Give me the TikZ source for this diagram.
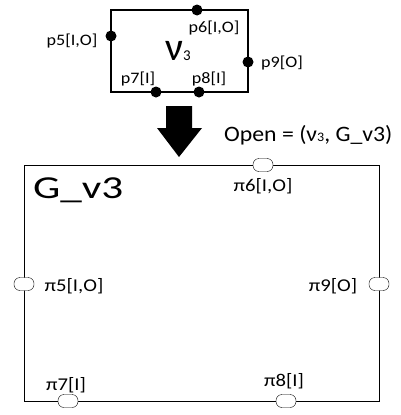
\documentclass[tikz,border=0pt]{standalone}
\usepackage{fontspec}
\usepackage{graphicx}
\setmainfont{Carlito}
% horizontally widened text: \wtext{xscale}{size}{text}
\newcommand\wtext[3]{\scalebox{#1}[1]{\fontsize{#2}{#2}\selectfont #3}}
\begin{document}
\begin{tikzpicture}[x=1pt,y=-1pt,
  dot/.style={circle,fill=black,inner sep=0pt,minimum size=11pt},
  port/.style={draw=black,fill=white,rounded corners=6pt,minimum width=20pt,minimum height=13pt,inner sep=0pt},
  lab/.style={inner sep=0pt}]
\useasboundingbox (0,0) rectangle (400,415);
% component box v3 with its ports
\draw[line width=1.2pt] (111,10) rectangle (248,92);
\node[lab] (nu) at (178,51) {\fontsize{40}{40}\selectfont ν\fontsize{15}{15}\selectfont 3};
\node[dot] (p5) at (111,36) {};
\node[dot] (p6) at (197,10) {};
\node[dot] (p9) at (248,62) {};
\node[dot] (p7) at (156,92) {};
\node[dot] (p8) at (199,92) {};
\node[lab] (l5) at (72,41) {\wtext{1.13}{16}{p5[I,O]}};
\node[lab] (l6) at (214,28) {\wtext{1.13}{16}{p6[I,O]}};
\node[lab,anchor=west] (l9) at (261,63) {\wtext{1.13}{16}{p9[O]}};
\node[lab] (l7) at (138,79) {\wtext{1.13}{16}{p7[I]}};
\node[lab] (l8) at (209,79) {\wtext{1.13}{16}{p8[I]}};
% block arrow
\fill[black] (166,106) -- (192,106) -- (192,128) -- (202,128) -- (179,157) -- (157,128) -- (166,128) -- cycle;
\node[lab,anchor=base west] (open) at (224,141) {\wtext{1.08}{22}{Open = (ν{\fontsize{13}{13}\selectfont 3}, G\_v3)}};
% graph box G_v3 with its ports
\draw (24,165) rectangle (379,401);
\node[lab,anchor=base west] (g) at (33,198) {\wtext{1.35}{32}{G\_v3}};
\node[port] (q6) at (263,165) {};
\node[port] (q5) at (24,284) {};
\node[port] (q9) at (379,284) {};
\node[port] (q7) at (68,401) {};
\node[port] (q8) at (286,401) {};
\node[lab] (m6) at (263,186) {\wtext{1.15}{18}{π6[I,O]}};
\node[lab] (m5) at (74,286) {\wtext{1.15}{18}{π5[I,O]}};
\node[lab] (m9) at (333,286) {\wtext{1.15}{18}{π9[O]}};
\node[lab] (m7) at (66,385) {\wtext{1.15}{18}{π7[I]}};
\node[lab] (m8) at (284,381) {\wtext{1.15}{18}{π8[I]}};
\end{tikzpicture}
\end{document}
